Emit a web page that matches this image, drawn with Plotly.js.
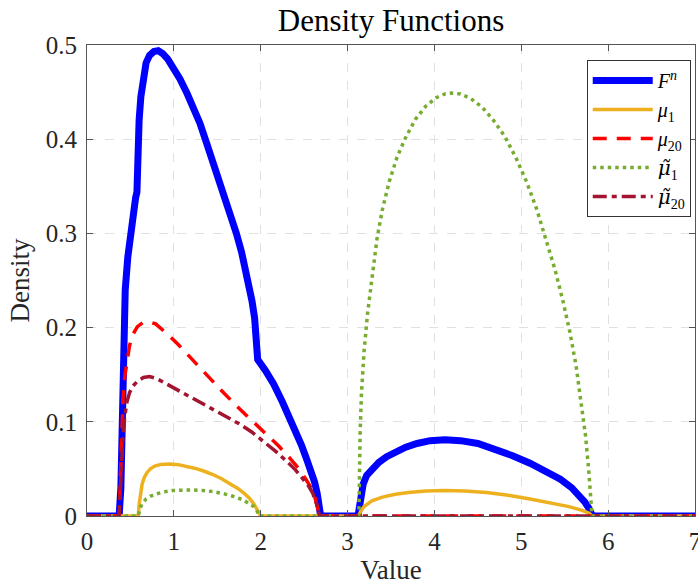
<!DOCTYPE html>
<html>
<head>
<meta charset="utf-8">
<script src="https://cdn.plot.ly/plotly-3.0.1.min.js"></script>
<style>html,body{margin:0;padding:0;background:#fff;}#chart{width:698px;height:585px;}</style>
</head>
<body>
<div id="chart"></div>
<script>
// F^n
const fnX = [0, 0.37, 0.39, 0.41, 0.425, 0.44, 0.47, 0.50, 0.53, 0.56, 0.575, 0.58, 0.59, 0.60, 0.62, 0.65, 0.68, 0.72, 0.77, 0.82, 0.87, 0.93, 0.99, 1.07, 1.15, 1.22, 1.30, 1.38, 1.45, 1.52, 1.60, 1.67, 1.72, 1.78, 1.83, 1.87, 1.90, 1.93, 1.95, 1.965, 2.05, 2.15, 2.25, 2.33, 2.40, 2.47, 2.53, 2.58, 2.62, 2.65, 2.67, 2.69, 3.12, 3.13, 3.15, 3.18, 3.22, 3.28, 3.36, 3.45, 3.55, 3.67, 3.80, 3.95, 4.12, 4.30, 4.50, 4.70, 4.90, 5.10, 5.30, 5.45, 5.58, 5.67, 5.73, 5.78, 5.81, 5.82, 7];
const fnY = [0, 0, 0.03, 0.12, 0.20, 0.24, 0.275, 0.30, 0.322, 0.338, 0.344, 0.37, 0.40, 0.42, 0.445, 0.468, 0.481, 0.489, 0.493, 0.494, 0.491, 0.485, 0.477, 0.464, 0.449, 0.434, 0.417, 0.395, 0.376, 0.358, 0.336, 0.316, 0.300, 0.280, 0.260, 0.243, 0.228, 0.210, 0.190, 0.166, 0.155, 0.140, 0.121, 0.105, 0.091, 0.075, 0.060, 0.049, 0.036, 0.024, 0.012, 0, 0, 0.008, 0.022, 0.034, 0.043, 0.050, 0.057, 0.063, 0.068, 0.073, 0.077, 0.080, 0.081, 0.080, 0.077, 0.071, 0.064, 0.056, 0.047, 0.039, 0.030, 0.022, 0.015, 0.008, 0.002, 0, 0];
// mu_1
const mu1X = [0, 0.59, 0.60, 0.615, 0.635, 0.66, 0.69, 0.73, 0.78, 0.85, 0.95, 1.05, 1.15, 1.25, 1.35, 1.45, 1.55, 1.65, 1.74, 1.81, 1.87, 1.92, 1.955, 1.98, 2.0, 3.13, 3.15, 3.19, 3.28, 3.40, 3.55, 3.70, 3.90, 4.12, 4.35, 4.60, 4.85, 5.10, 5.35, 5.55, 5.70, 5.78, 5.82, 7];
const mu1Y = [0, 0, 0.012, 0.025, 0.034, 0.041, 0.046, 0.050, 0.053, 0.0548, 0.0552, 0.0545, 0.0528, 0.0505, 0.0475, 0.044, 0.0395, 0.034, 0.029, 0.024, 0.019, 0.013, 0.008, 0.003, 0, 0, 0.005, 0.010, 0.016, 0.020, 0.023, 0.025, 0.0265, 0.027, 0.0265, 0.025, 0.022, 0.018, 0.014, 0.010, 0.006, 0.003, 0, 0];
// mu_20
const mu20X = [0, 0.37, 0.385, 0.40, 0.415, 0.435, 0.46, 0.49, 0.53, 0.58, 0.64, 0.72, 0.79, 0.87, 0.95, 1.05, 1.20, 1.37, 1.55, 1.72, 1.90, 2.08, 2.21, 2.33, 2.44, 2.52, 2.58, 2.62, 2.65, 2.67, 2.68, 7];
const mu20Y = [0, 0, 0.04, 0.095, 0.125, 0.148, 0.166, 0.181, 0.193, 0.201, 0.205, 0.206, 0.204, 0.198, 0.191, 0.182, 0.167, 0.150, 0.133, 0.117, 0.101, 0.086, 0.074, 0.062, 0.050, 0.039, 0.030, 0.021, 0.012, 0.004, 0, 0];
// tilde mu_1
const tmu1X = [0, 0.59, 0.61, 0.64, 0.68, 0.73, 0.80, 0.88, 0.98, 1.10, 1.20, 1.32, 1.45, 1.58, 1.70, 1.80, 1.87, 1.92, 1.96, 1.98, 3.13, 3.135, 3.145, 3.16, 3.19, 3.23, 3.28, 3.34, 3.40, 3.48, 3.57, 3.67, 3.78, 3.90, 4.02, 4.12, 4.20, 4.30, 4.42, 4.55, 4.68, 4.81, 4.94, 5.06, 5.18, 5.29, 5.39, 5.48, 5.56, 5.63, 5.69, 5.74, 5.775, 5.80, 5.815, 7];
const tmu1Y = [0, 0, 0.008, 0.014, 0.018, 0.021, 0.0235, 0.0255, 0.027, 0.0276, 0.0277, 0.0272, 0.026, 0.0235, 0.0205, 0.017, 0.0135, 0.010, 0.005, 0, 0, 0.04, 0.09, 0.13, 0.175, 0.215, 0.255, 0.295, 0.325, 0.355, 0.381, 0.402, 0.421, 0.435, 0.444, 0.448, 0.449, 0.448, 0.443, 0.434, 0.420, 0.403, 0.380, 0.355, 0.325, 0.292, 0.261, 0.228, 0.195, 0.160, 0.122, 0.085, 0.05, 0.02, 0, 0];
// tilde mu_20
const tmu20X = [0, 0.37, 0.385, 0.40, 0.415, 0.435, 0.46, 0.49, 0.53, 0.58, 0.65, 0.72, 0.80, 0.90, 1.00, 1.15, 1.30, 1.45, 1.60, 1.75, 1.90, 2.05, 2.18, 2.30, 2.40, 2.48, 2.55, 2.60, 2.63, 2.65, 2.67, 2.68, 7];
const tmu20Y = [0, 0, 0.03, 0.062, 0.087, 0.106, 0.121, 0.131, 0.138, 0.143, 0.147, 0.148, 0.146, 0.141, 0.136, 0.128, 0.121, 0.114, 0.106, 0.098, 0.089, 0.078, 0.068, 0.058, 0.049, 0.040, 0.032, 0.024, 0.017, 0.011, 0.003, 0, 0];

const tildeMu = '<span style="font-family:\'DejaVu Serif\';font-style:italic">μ̃</span>';
const names = ['<i>F</i><sup><i>n</i></sup>', '<i>μ</i><sub>1</sub>', '<i>μ</i><sub>20</sub>', tildeMu + '<sub>1</sub>', tildeMu + '<sub>20</sub>'];

const serif = '"Liberation Serif", "Times New Roman", serif';
const traces = [
  {x: fnX, y: fnY, name: names[0], line: {color: '#0000FF', width: 7}},
  {x: mu1X, y: mu1Y, name: names[1], line: {color: '#EDB120', width: 3.5}},
  {x: mu20X, y: mu20Y, name: names[2], line: {color: '#FF0000', width: 3.5, dash: '14px,10px'}},
  {x: tmu1X, y: tmu1Y, name: names[3], line: {color: '#77AC30', width: 3.5, dash: '3.5px,4px'}},
  {x: tmu20X, y: tmu20Y, name: names[4], line: {color: '#A2142F', width: 3.5, dash: '14px,5px,5px,5px'}}
].map(t => Object.assign({type: 'scatter', mode: 'lines', hoverinfo: 'skip'}, t));

const axisCommon = {
  showline: true, linecolor: '#555', linewidth: 1, mirror: 'ticks',
  ticks: 'inside', ticklen: 6, tickcolor: '#555',
  showgrid: true, gridcolor: '#e0e0e0', griddash: 'dash', gridwidth: 1,
  zeroline: false, ticklabeloverflow: 'allow',
  tickfont: {family: serif, size: 25, color: '#262626'}
};

const layout = {
  width: 698, height: 585,
  margin: {l: 87, r: 3, t: 45, b: 69},
  paper_bgcolor: '#fff', plot_bgcolor: '#fff',
  title: {text: 'Density Functions', font: {family: serif, size: 31, color: '#000'}, x: 0.5, xref: 'paper', y: 0.966, yref: 'container', yanchor: 'middle'},
  xaxis: Object.assign({}, axisCommon, {range: [0, 7], dtick: 1, tick0: 0, ticklabelstandoff: 3,
    title: {text: 'Value', font: {family: serif, size: 27, color: '#262626'}, standoff: 6}}),
  yaxis: Object.assign({}, axisCommon, {range: [0, 0.5], dtick: 0.1, tick0: 0, ticklabelstandoff: 4,
    title: {text: 'Density', font: {family: serif, size: 27, color: '#262626'}, standoff: 8}}),
  showlegend: true,
  legend: {x: 0.993, xanchor: 'right', y: 0.968, yanchor: 'top', bgcolor: '#fff', bordercolor: '#333', borderwidth: 1,
    font: {family: serif, size: 20, color: '#000'}, itemwidth: 60, tracegroupgap: 0}
};

Plotly.newPlot('chart', traces, layout, {displayModeBar: false, staticPlot: true});
</script>
</body>
</html>
